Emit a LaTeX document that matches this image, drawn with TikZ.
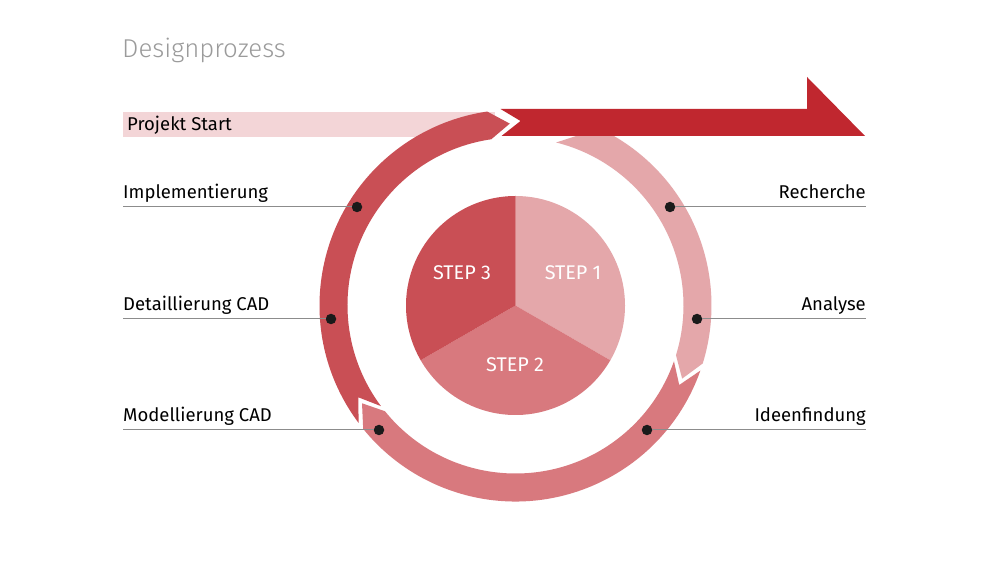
\documentclass[tikz,border=0pt]{standalone}
\usepackage{fontspec}
\setmainfont{Fira Sans}
\newfontfamily\titlefont{Fira Sans Light}
\definecolor{lightr}{HTML}{E4A7AA}
\definecolor{midr}{HTML}{D8797E}
\definecolor{darkr}{HTML}{C94F55}
\definecolor{arrowr}{HTML}{C0272F}
\definecolor{barr}{HTML}{F3D5D7}
\definecolor{leader}{HTML}{8C8C8C}
\definecolor{titleg}{HTML}{9B9B9B}
\definecolor{dotc}{HTML}{1A1A1A}
\begin{document}
\begin{tikzpicture}[x=1pt,y=1pt,
  lbl/.style={font=\fontsize{18.5}{21}\selectfont, text=black, inner sep=0pt},
  steplbl/.style={font=\fontsize{19.8}{22}\selectfont, text=white, inner sep=0pt},
  dotmark/.style={circle, fill=dotc, inner sep=0pt, minimum size=10.5pt},
  leaderline/.style={draw=leader, line width=1pt}]
\useasboundingbox (0,0) rectangle (1000,562);
\fill[white] (0,0) rectangle (1000,562);

% title
\node[anchor=base west, inner sep=0pt, font=\titlefont\fontsize{25.8}{28}\selectfont, text=titleg] (title) at (122,504) {Designprozess};

% start bar
\fill[barr] (123,425) rectangle (495,450);
\node[lbl, anchor=base west] (start) at (127,431) {Projekt Start};

% ring
\def\Ro{196}
\def\Ri{168}
\def\Rm{182}
\begin{scope}[shift={(515.5,256.5)}]
  \fill[lightr] (76:\Ro) arc[start angle=76, end angle=-17.2, radius=\Ro]
     -- (-23.7:\Rm) -- (-17.2:\Ri) arc[start angle=-17.2, end angle=76, radius=\Ri]
     -- (69.5:\Rm) -- cycle;
  \fill[midr] (-19.4:\Ro) arc[start angle=-19.4, end angle=-141, radius=\Ro]
     -- (-147.5:\Rm) -- (-141:\Ri) arc[start angle=-141, end angle=-19.4, radius=\Ri]
     -- (-25.9:\Rm) -- cycle;
  \fill[darkr] (-143.2:\Ro) arc[start angle=-143.2, end angle=-261.7, radius=\Ro]
     -- (-268.2:\Rm) -- (-261.7:\Ri) arc[start angle=-261.7, end angle=-143.2, radius=\Ri]
     -- (-149.7:\Rm) -- cycle;
\end{scope}

% big arrow
\fill[arrowr] (500.5,453) -- (807,453) -- (807,485) -- (865,426) -- (501.5,426) -- (520.5,441) -- cycle;

% pie
\begin{scope}[shift={(515.5,256.5)}]
  \fill[lightr] (0,0) -- (90:109.5) arc[start angle=90, end angle=-30, radius=109.5] -- cycle;
  \fill[midr] (0,0) -- (-30:109.5) arc[start angle=-30, end angle=-150, radius=109.5] -- cycle;
  \fill[darkr] (0,0) -- (-150:109.5) arc[start angle=-150, end angle=-270, radius=109.5] -- cycle;
\end{scope}
\node[steplbl] (s1) at (573,289) {STEP 1};
\node[steplbl] (s3) at (462,289) {STEP 3};
\node[steplbl] (s2) at (515,197) {STEP 2};

% leader lines and dots
\coordinate (la) at (123,355);
\coordinate (lb) at (123,243);
\coordinate (lc) at (123,132);
\coordinate (ra) at (866,355);
\coordinate (rb) at (866,243);
\coordinate (rc) at (866,132);
\node[dotmark] (da) at (357,355) {};
\node[dotmark] (db) at (331,243) {};
\node[dotmark] (dc) at (379,132) {};
\node[dotmark] (ea) at (670,355) {};
\node[dotmark] (eb) at (697,243) {};
\node[dotmark] (ec) at (647,132) {};
\draw[leaderline] (la) -- (da);
\draw[leaderline] (lb) -- (db);
\draw[leaderline] (lc) -- (dc);
\draw[leaderline] (ea) -- (ra);
\draw[leaderline] (eb) -- (rb);
\draw[leaderline] (ec) -- (rc);

% labels
\node[lbl, anchor=base west] (ta) at (123,363) {Implementierung};
\node[lbl, anchor=base west] (tb) at (123,251) {Detaillierung CAD};
\node[lbl, anchor=base west] (tc) at (123,140) {Modellierung CAD};
\node[lbl, anchor=base east] (ua) at (866,363) {Recherche};
\node[lbl, anchor=base east] (ub) at (866,251) {Analyse};
\node[lbl, anchor=base east] (uc) at (866,140) {Ideenfindung};
\end{tikzpicture}
\end{document}
